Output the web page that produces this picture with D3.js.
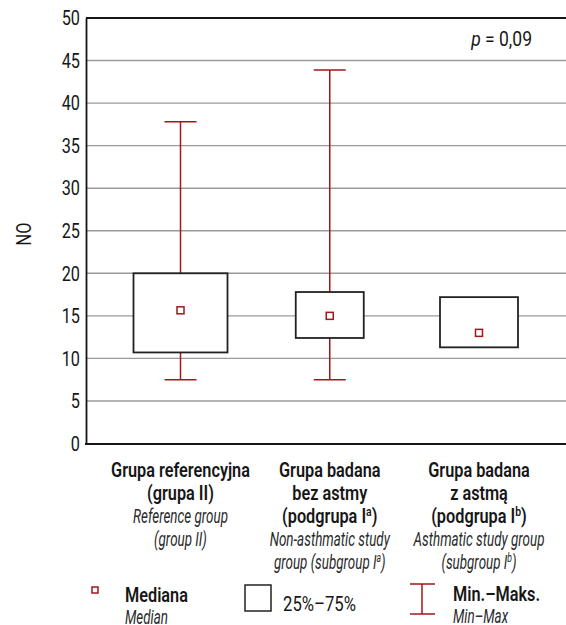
<!DOCTYPE html>
<html>
<head>
<meta charset="utf-8">
<script src="https://cdn.jsdelivr.net/npm/d3@7/dist/d3.min.js"></script>
<style>
  html, body { margin: 0; padding: 0; background: #fff; }
  svg { display: block; }
  text { font-family: Roboto, "Noto Sans", sans-serif; }
</style>
</head>
<body>
<div id="chart"></div>
<script>
// ---- data ----
const categories = ["ref", "noasthma", "asthma"];
const minValues    = [7.5, 7.5, null];
const q1Values     = [10.7, 12.4, 11.3];
const medianValues = [15.65, 15.0, 13.0];
const q3Values     = [20.0, 17.8, 17.2];
const maxValues    = [37.8, 43.9, null];
const yTicks = [0, 5, 10, 15, 20, 25, 30, 35, 40, 45, 50];
const yTitle = "NO";
const pLabel = ["p", " = 0,09"];
// category label lines: [text, superscript, italic, tail]
const catLabels = [
  [["Grupa referencyjna", "", false], ["(grupa II)", "", false], ["Reference group", "", true], ["(group II)", "", true]],
  [["Grupa badana", "", false], ["bez astmy", "", false], ["(podgrupa I", "a", false, ")"], ["Non-asthmatic study", "", true], ["group (subgroup I", "a", true, ")"]],
  [["Grupa badana", "", false], ["z astmą", "", false], ["(podgrupa I", "b", false, ")"], ["Asthmatic study group", "", true], ["(subgroup I", "b", true, ")"]]
];
const legendLabels = [["Mediana", "Median"], ["25%–75%"], ["Min.–Maks.", "Min–Max"]];

// ---- layout ----
const W = 566, H = 625;
const mLeft = 86, mTop = 18, mRight = 566, mBottom = 443.5;
const boxWidths = [94, 68, 78];
const red = "#a3161a";
const ink = "#161616";
const grey = "#2a2a2a";

const svg = d3.select("#chart").append("svg").attr("width", W).attr("height", H);

// measure helper for condensed look (horizontal scale factor)
function measure(str, size, weight, style) {
  const t = svg.append("text").attr("font-size", size).attr("font-weight", weight).attr("font-style", style).text(str);
  const w = t.node().getComputedTextLength();
  t.remove();
  return w;
}
const sxTick = 18.3 / measure("50", 21, 400, "normal");
const sxBold = 139 / measure("Grupa referencyjna", 19.5, 600, "normal");
const sxItal = 131 / measure("Asthmatic study group", 19.5, 400, "italic");
const sxLeg = 63 / measure("Mediana", 20, 600, "normal");
const sxReg = 73 / measure("25%–75%", 20, 400, "normal");
const sxP = 33 / measure("0,09", 20, 400, "normal");

function label(parent, x, y, sx, size, weight, style, fill, anchor) {
  return parent.append("text").attr("transform", `translate(${x},${y}) scale(${sx},1)`)
    .attr("font-size", size).attr("font-weight", weight).attr("font-style", style)
    .attr("fill", fill).attr("text-anchor", anchor || "start");
}

const y = d3.scaleLinear().domain([0, 50]).range([mBottom, mTop]);
const x = d3.scalePoint().domain(categories).range([180.5, 479]);

// gridlines
svg.append("g").selectAll("line").data(yTicks.filter(t => t > 0 && t < 50)).join("line")
  .attr("x1", mLeft).attr("x2", mRight).attr("y1", d => y(d)).attr("y2", d => y(d))
  .attr("stroke", "#9a9a9a").attr("stroke-width", 1.4);

// top border
svg.append("line").attr("x1", mLeft).attr("x2", mRight).attr("y1", y(50)).attr("y2", y(50))
  .attr("stroke", ink).attr("stroke-width", 1.8);

// y axis
const yAxis = d3.axisLeft(y).tickValues(yTicks).tickSize(0).tickPadding(6);
const gy = svg.append("g").attr("transform", `translate(${mLeft},0)`).call(yAxis);
gy.select(".domain").attr("stroke", ink).attr("stroke-width", 1.8);
gy.selectAll("text").attr("font-size", 21).attr("fill", ink)
  .style("font-family", "Roboto, 'Noto Sans', sans-serif")
  .attr("x", -6 / sxTick).attr("transform", `scale(${sxTick},1)`);

// bottom axis line
svg.append("line").attr("x1", mLeft - 1).attr("x2", mRight).attr("y1", mBottom + 0.5).attr("y2", mBottom + 0.5)
  .attr("stroke", ink).attr("stroke-width", 1.8);

// y title
svg.append("text").attr("transform", `translate(31,234) rotate(-90) scale(${sxTick},1)`)
  .attr("text-anchor", "middle").attr("font-size", 21).attr("fill", ink).text(yTitle);

// p value
const pt = label(svg, 532, 46, sxP, 20, 400, "normal", ink, "end");
pt.append("tspan").attr("font-style", "italic").text(pLabel[0]);
pt.append("tspan").text(pLabel[1]);

// boxes
const data = categories.map((c, i) => ({c, i, min: minValues[i], q1: q1Values[i], med: medianValues[i], q3: q3Values[i], max: maxValues[i], w: boxWidths[i]}));
const g = svg.append("g");
data.forEach(d => {
  const cx = x(d.c);
  if (d.max != null) {
    g.append("line").attr("x1", cx).attr("x2", cx).attr("y1", y(d.q3)).attr("y2", y(d.max)).attr("stroke", red).attr("stroke-width", 1.5);
    g.append("line").attr("x1", cx - 16).attr("x2", cx + 16).attr("y1", y(d.max)).attr("y2", y(d.max)).attr("stroke", red).attr("stroke-width", 1.5);
  }
  if (d.min != null) {
    g.append("line").attr("x1", cx).attr("x2", cx).attr("y1", y(d.q1)).attr("y2", y(d.min)).attr("stroke", red).attr("stroke-width", 1.5);
    g.append("line").attr("x1", cx - 16).attr("x2", cx + 16).attr("y1", y(d.min)).attr("y2", y(d.min)).attr("stroke", red).attr("stroke-width", 1.5);
  }
  g.append("rect").attr("x", cx - d.w / 2).attr("width", d.w).attr("y", y(d.q3)).attr("height", y(d.q1) - y(d.q3))
    .attr("fill", "#fff").attr("stroke", "#222").attr("stroke-width", 1.8);
  g.append("rect").attr("x", cx - 3.5).attr("y", y(d.med) - 3.5).attr("width", 7).attr("height", 7)
    .attr("fill", "#fff").attr("stroke", red).attr("stroke-width", 1.5);
});

// category labels
categories.forEach((c, i) => {
  const cx = x(c);
  catLabels[i].forEach((ln, j) => {
    const it = ln[2];
    const t = label(svg, cx, 477 + j * 23, it ? sxItal : sxBold, 19.5, it ? 400 : 600,
      it ? "italic" : "normal", it ? grey : ink, "middle");
    t.append("tspan").text(ln[0]);
    if (ln[1]) {
      t.append("tspan").attr("dy", -7).attr("font-size", 12.5).text(ln[1]);
      t.append("tspan").attr("dy", 7).text(ln[3]);
    }
  });
});

// legend
const lg = svg.append("g");
lg.append("rect").attr("x", 92).attr("y", 587).attr("width", 6).attr("height", 6).attr("fill", "#fff").attr("stroke", red).attr("stroke-width", 1.5);
label(lg, 125, 602, sxLeg, 20, 600, "normal", ink).text(legendLabels[0][0]);
label(lg, 125, 624, sxItal, 19.5, 400, "italic", grey).text(legendLabels[0][1]);
lg.append("rect").attr("x", 245).attr("y", 585).attr("width", 26).attr("height", 26).attr("fill", "#fff").attr("stroke", "#222").attr("stroke-width", 1.5);
label(lg, 283, 611, sxReg, 20, 400, "normal", ink).text(legendLabels[1][0]);
lg.append("line").attr("x1", 422).attr("x2", 422).attr("y1", 584).attr("y2", 614).attr("stroke", red).attr("stroke-width", 1.5);
lg.append("line").attr("x1", 410).attr("x2", 435).attr("y1", 584).attr("y2", 584).attr("stroke", red).attr("stroke-width", 1.5);
lg.append("line").attr("x1", 410).attr("x2", 435).attr("y1", 614).attr("y2", 614).attr("stroke", red).attr("stroke-width", 1.5);
label(lg, 453, 601, sxLeg, 20, 600, "normal", ink).text(legendLabels[2][0]);
label(lg, 453, 623, sxItal, 19.5, 400, "italic", grey).text(legendLabels[2][1]);
</script>
</body>
</html>
